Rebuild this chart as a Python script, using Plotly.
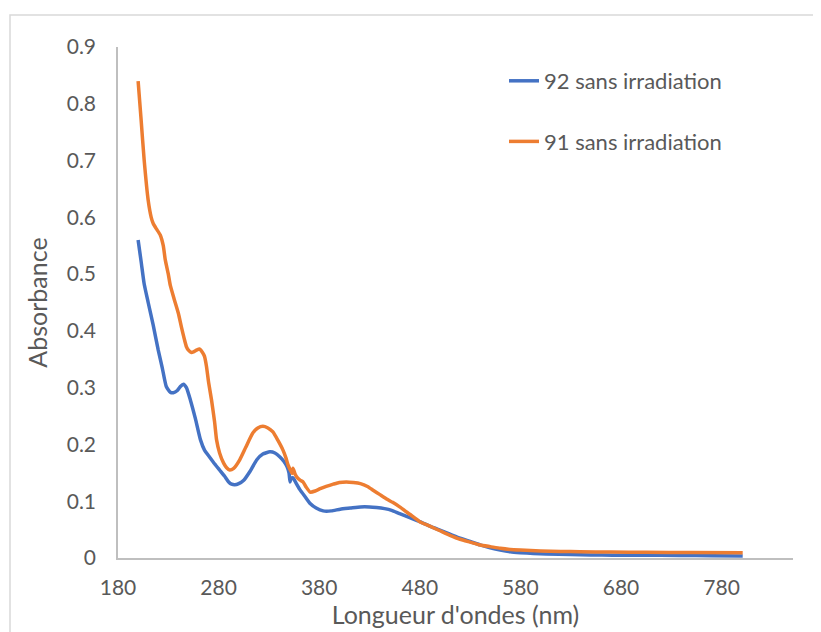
import plotly.graph_objects as go

# Series 92 sans irradiation (wavelength nm, absorbance)
wl_92 = [200, 203, 206, 210, 215, 220, 224, 228, 232, 235, 239, 242, 245, 248, 252, 257, 262, 266, 271, 276, 281, 286, 290, 293, 296, 300, 305, 311, 318, 324, 331, 336, 341, 345, 348, 350, 351, 352, 354, 357, 361, 366, 371, 377, 384, 392, 401, 411, 421, 430, 437, 445, 452, 460, 470, 480, 490, 500, 510, 520, 530, 540, 550, 560, 570, 580, 593, 606, 630, 650, 672, 700, 739, 770, 801]
ab_92 = [0.560, 0.522, 0.483, 0.450, 0.410, 0.366, 0.335, 0.302, 0.292, 0.291, 0.295, 0.302, 0.306, 0.300, 0.278, 0.245, 0.208, 0.190, 0.178, 0.166, 0.155, 0.144, 0.134, 0.130, 0.129, 0.131, 0.137, 0.152, 0.173, 0.183, 0.187, 0.185, 0.178, 0.170, 0.161, 0.150, 0.134, 0.140, 0.141, 0.132, 0.120, 0.108, 0.096, 0.088, 0.083, 0.083, 0.086, 0.088, 0.090, 0.090, 0.089, 0.087, 0.084, 0.078, 0.071, 0.064, 0.056, 0.049, 0.042, 0.035, 0.029, 0.023, 0.018, 0.014, 0.011, 0.0094, 0.008, 0.007, 0.006, 0.0055, 0.005, 0.0048, 0.0045, 0.004, 0.0035]

# Series 91 sans irradiation
wl_91 = [200, 203, 206, 210, 213, 215, 218, 222, 225, 227, 230, 232, 236, 240, 243, 246, 248, 250, 253, 255, 258, 261, 264, 266, 268, 270, 273, 276, 278, 281, 285, 288, 291, 295, 301, 307, 314, 319, 324, 329, 334, 339, 344, 347, 349, 351, 353, 354, 356, 358, 361, 364, 367, 371, 376, 381, 387, 394, 400, 407, 414, 421, 428, 434, 440, 447, 453, 460, 470, 480, 490, 500, 510, 520, 530, 540, 550, 560, 570, 580, 600, 620, 639, 670, 705, 750, 801]
ab_91 = [0.840, 0.771, 0.701, 0.630, 0.600, 0.589, 0.580, 0.569, 0.550, 0.525, 0.500, 0.480, 0.455, 0.431, 0.407, 0.385, 0.372, 0.366, 0.362, 0.363, 0.366, 0.368, 0.362, 0.355, 0.337, 0.310, 0.278, 0.240, 0.208, 0.185, 0.167, 0.159, 0.155, 0.158, 0.173, 0.195, 0.220, 0.229, 0.232, 0.229, 0.222, 0.207, 0.190, 0.176, 0.164, 0.156, 0.149, 0.158, 0.148, 0.142, 0.137, 0.134, 0.125, 0.116, 0.118, 0.122, 0.126, 0.130, 0.133, 0.134, 0.133, 0.131, 0.126, 0.119, 0.112, 0.104, 0.098, 0.090, 0.077, 0.064, 0.056, 0.048, 0.040, 0.033, 0.028, 0.023, 0.020, 0.017, 0.015, 0.014, 0.0125, 0.0115, 0.011, 0.0105, 0.010, 0.0097, 0.0093]

x_ticks = [180, 280, 380, 480, 580, 680, 780]
y_ticks = [0, 0.1, 0.2, 0.3, 0.4, 0.5, 0.6, 0.7, 0.8, 0.9]
y_tick_labels = ["0", "0.1", "0.2", "0.3", "0.4", "0.5", "0.6", "0.7", "0.8", "0.9"]

FONT = "Lato"
GRAY = "#595959"

fig = go.Figure()
fig.add_trace(go.Scatter(x=wl_92, y=ab_92, mode="lines", name="92 sans irradiation",
                         legendgroup="a", line=dict(color="#4472C4", width=3.5, shape="spline", smoothing=0.5)))
fig.add_trace(go.Scatter(x=wl_91, y=ab_91, mode="lines", name="91 sans irradiation",
                         legendgroup="b", line=dict(color="#ED7D31", width=3.5, shape="spline", smoothing=0.5)))

OFF = 8  # page offset of the figure inside the browser window
W, H = 821 - OFF, 632 - OFF
L, R, T, B = 118 - OFF, 28, 47 - OFF, 632 - 558
pw, ph = W - L - R, H - T - B

def px_x(p):
    return (p - OFF - L) / pw

def px_y(p):
    return (H - B - (p - OFF)) / ph

fig.update_layout(
    width=W, height=H,
    margin=dict(l=L, r=R, t=T, b=B, autoexpand=False),
    paper_bgcolor="white", plot_bgcolor="white",
    font=dict(family=FONT, color=GRAY, size=21),
    showlegend=True,
    legend=dict(x=px_x(504), y=px_y(60), xanchor="left", yanchor="top",
                font=dict(size=22, color=GRAY), bgcolor="rgba(0,0,0,0)",
                tracegroupgap=29, traceorder="grouped"),
    xaxis=dict(range=[180, 851], tickmode="array", tickvals=x_ticks, automargin=False,
               showgrid=False, zeroline=False, showline=True, linecolor="#bfbfbf", linewidth=1.5,
               ticks="", ticklabelstandoff=10, tickfont=dict(size=21, color=GRAY),
               title=dict(text="Longueur d'ondes (nm)", font=dict(size=25, color=GRAY), standoff=0)),
    yaxis=dict(range=[0, 0.9], tickmode="array", tickvals=y_ticks, ticktext=y_tick_labels, automargin=False,
               showgrid=False, zeroline=False, showline=True, linecolor="#bfbfbf", linewidth=1.5,
               ticks="", ticklabelstandoff=16, tickfont=dict(size=21, color=GRAY),
               title=dict(text="Absorbance", font=dict(size=25, color=GRAY), standoff=12)),
    shapes=[dict(type="rect", xref="paper", yref="paper",
                 x0=px_x(10), x1=px_x(850), y0=px_y(660), y1=px_y(15),
                 line=dict(color="#d9d9d9", width=1.5), fillcolor="rgba(0,0,0,0)", layer="below")],
)

fig.write_html("out.html")
